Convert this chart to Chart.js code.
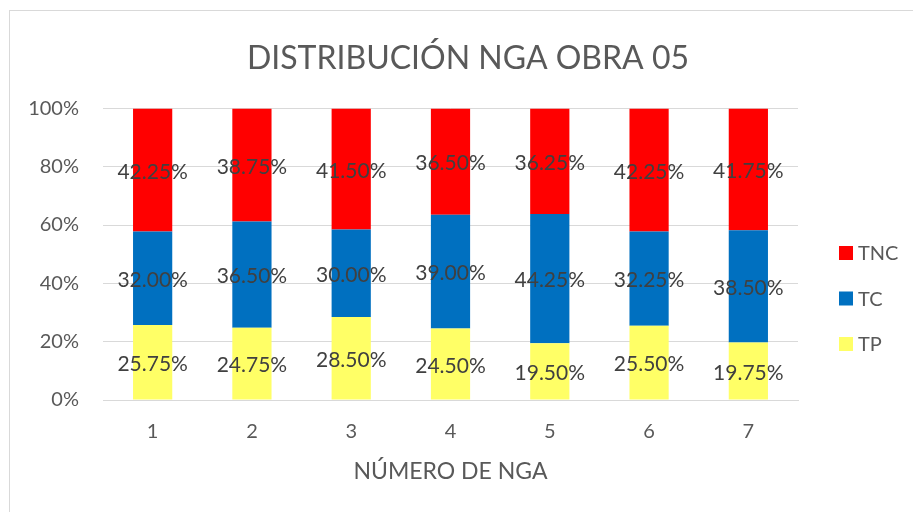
<!DOCTYPE html>
<html>
<head>
<meta charset="utf-8">
<script src="https://cdn.jsdelivr.net/npm/chart.js@4.4.1/dist/chart.umd.min.js"></script>
<style>
  html, body { margin: 0; padding: 0; background: #fff; }
  #wrap { position: relative; width: 913px; height: 512px; }
</style>
</head>
<body>
<div id="wrap"><canvas id="chart" width="913" height="512"></canvas></div>
<script>
// NGA numbers on the x axis
const categories = ['1', '2', '3', '4', '5', '6', '7'];

// Percent shares per NGA (each column adds up to 100)
const tpValues = [25.75, 24.75, 28.50, 24.50, 19.50, 25.50, 19.75];
const tcValues = [32.00, 36.50, 30.00, 39.00, 44.25, 32.25, 38.50];
const tncValues = [42.25, 38.75, 41.50, 36.50, 36.25, 42.25, 41.75];

const yTicks = [0, 20, 40, 60, 80, 100];

const FONT = 'Lato, "Open Sans", sans-serif';
const TEXT = '#595959';

// writes each value in the middle of its segment
const segmentLabels = {
  id: 'segmentLabels',
  afterDatasetsDraw(chart) {
    const ctx = chart.ctx;
    ctx.save();
    ctx.font = '21px ' + FONT;
    ctx.fillStyle = '#404040';
    ctx.textAlign = 'center';
    ctx.textBaseline = 'middle';
    chart.data.datasets.forEach((ds, i) => {
      chart.getDatasetMeta(i).data.forEach((bar, j) => {
        const y = (bar.y + bar.base) / 2;
        ctx.fillText(ds.data[j].toFixed(2) + '%', bar.x, y + 2);
      });
    });
    ctx.restore();
  },
};

// legend on the right, top item is the top of the stack
const sideLegend = {
  id: 'sideLegend',
  afterDraw(chart, args, opts) {
    const ctx = chart.ctx;
    const items = chart.data.datasets.slice().reverse();
    ctx.save();
    ctx.font = '20px ' + FONT;
    ctx.textBaseline = 'middle';
    items.forEach((ds, i) => {
      const cy = opts.top + i * opts.gap;
      ctx.fillStyle = ds.backgroundColor;
      ctx.fillRect(opts.x, cy - 7, 14, 14);
      ctx.fillStyle = TEXT;
      ctx.fillText(ds.label, opts.x + 19, cy + 1);
    });
    ctx.restore();
  },
};

// thin frame round the chart object
const frame = {
  id: 'frame',
  beforeDraw(chart) {
    const ctx = chart.ctx;
    ctx.save();
    ctx.strokeStyle = '#D9D9D9';
    ctx.lineWidth = 1;
    ctx.strokeRect(9.5, 10.5, chart.width + 20, chart.height + 20);
    ctx.restore();
  },
};

new Chart(document.getElementById('chart').getContext('2d'), {
  type: 'bar',
  data: {
    labels: categories,
    datasets: [
      { label: 'TP', data: tpValues, backgroundColor: '#FFFF66' },
      { label: 'TC', data: tcValues, backgroundColor: '#0070C0' },
      { label: 'TNC', data: tncValues, backgroundColor: '#FF0000' },
    ],
  },
  options: {
    responsive: false,
    animation: false,
    layout: { padding: { left: 23, right: 0, top: 0, bottom: 4 } },
    barPercentage: 0.79,
    categoryPercentage: 0.5,
    plugins: {
      legend: { display: false },
      tooltip: { enabled: false },
      title: {
        display: true,
        text: 'DISTRIBUCIÓN NGA OBRA 05',
        color: TEXT,
        font: { family: FONT, size: 32, weight: 'normal' },
        padding: { top: 39, bottom: 31 },
      },
      sideLegend: { x: 839, top: 253, gap: 45.5 },
    },
    scales: {
      x: {
        stacked: true,
        afterFit: (s) => { s.height = 108; },
        grid: { display: false, drawTicks: false },
        border: { color: '#D9D9D9' },
        ticks: { color: TEXT, font: { family: FONT, size: 20 }, padding: 20 },
        title: {
          display: true,
          text: 'NÚMERO DE NGA',
          color: TEXT,
          font: { family: FONT, size: 23 },
          padding: { top: 12, bottom: 23 },
        },
      },
      y: {
        stacked: true,
        min: 0,
        max: 100,
        afterBuildTicks: (s) => { s.ticks = yTicks.map((v) => ({ value: v })); },
        afterFit: (s) => { s.width = 80; },
        grid: { color: '#D9D9D9', drawTicks: false },
        border: { display: false },
        ticks: {
          color: TEXT,
          font: { family: FONT, size: 20 },
          padding: 24,
          callback: (v) => v + '%',
        },
      },
      // empty strip on the right that keeps room for the legend
      legendRoom: {
        type: 'linear',
        position: 'right',
        grid: { display: false, drawTicks: false },
        border: { display: false },
        ticks: { display: false },
        afterFit: (s) => { s.width = 115; },
      },
    },
  },
  plugins: [frame, segmentLabels, sideLegend],
});
</script>
</body>
</html>
